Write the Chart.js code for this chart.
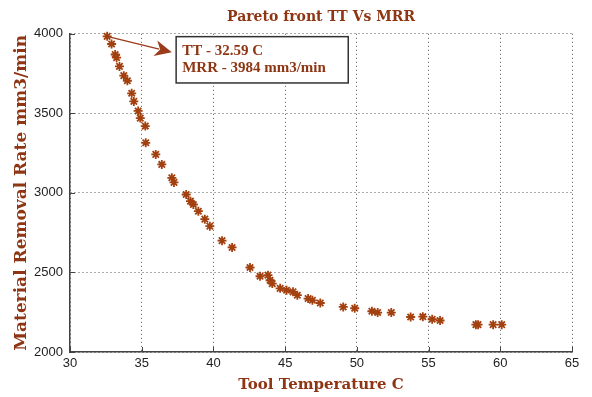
<!DOCTYPE html>
<html>
<head>
<meta charset="utf-8">
<script src="https://cdn.jsdelivr.net/npm/chart.js@4/dist/chart.umd.min.js"></script>
<style>
html,body{margin:0;padding:0;background:#fff;}
#wrap{width:592px;height:397px;position:relative;}
</style>
</head>
<body>
<div id="wrap"><canvas id="c" width="592" height="397"></canvas></div>
<script>
// ---- data ----
const toolTemp = [32.59, 32.9, 33.15, 33.25, 33.45, 33.75, 34.0, 34.3, 34.45, 34.75, 34.9, 35.25,
  35.28, 35.98, 36.4, 37.1, 37.25, 38.1, 38.4, 38.6, 38.95, 39.4, 39.75,
  40.6, 41.3, 42.55, 43.25, 43.8, 43.95, 44.1, 44.65, 45.1, 45.55, 45.85, 46.6, 46.9, 47.45,
  49.05, 49.85, 51.05, 51.45, 52.4, 53.75, 54.6, 55.25, 55.8, 58.3, 58.45, 59.5, 60.1];
const mrr = [3984, 3936, 3870, 3850, 3795, 3737, 3705, 3626, 3575, 3515, 3470, 3420,
  3315, 3242, 3179, 3095, 3066, 2990, 2948, 2927, 2885, 2835, 2791,
  2700, 2657, 2531, 2476, 2483, 2451, 2430, 2400, 2388, 2378, 2357, 2336, 2325, 2308,
  2283, 2275, 2256, 2248, 2248, 2220, 2222, 2206, 2198, 2172, 2172, 2172, 2172];
const xTickValues = [30, 35, 40, 45, 50, 55, 60, 65];
const yTickValues = [2000, 2500, 3000, 3500, 4000];
const chartTitle = 'Pareto front TT Vs MRR';
const xTitle = 'Tool Temperature C';
const yTitle = 'Material Removal Rate mm3/min';
const noteLines = ['TT - 32.59 C', 'MRR - 3984 mm3/min'];
const arrowFrom = [32.59, 3984];
const arrowTo = [37.1, 3884];
const noteBoxX = [37.4, 49.4];
const noteBoxY = [3982, 3691];

const BROWN = '#8e3514';
const points = toolTemp.map((x, i) => ({x: x, y: mrr[i]}));

const innerTicks = {
  id: 'innerTicks',
  afterDraw(chart) {
    const {ctx, scales: {x, y}, chartArea: a} = chart;
    ctx.save();
    ctx.strokeStyle = '#444';
    ctx.lineWidth = 1;
    xTickValues.forEach(v => {
      const px = Math.round(x.getPixelForValue(v)) + 0.5;
      ctx.beginPath(); ctx.moveTo(px, a.bottom); ctx.lineTo(px, a.bottom - 5); ctx.stroke();
    });
    yTickValues.forEach(v => {
      const py = Math.round(y.getPixelForValue(v)) + 0.5;
      ctx.beginPath(); ctx.moveTo(a.left, py); ctx.lineTo(a.left + 5, py); ctx.stroke();
    });
    ctx.restore();
  }
};

const note = {
  id: 'note',
  afterDatasetsDraw(chart) {
    const {ctx, scales: {x, y}} = chart;
    const x0 = x.getPixelForValue(arrowFrom[0]), y0 = y.getPixelForValue(arrowFrom[1]);
    const x1 = x.getPixelForValue(arrowTo[0]), y1 = y.getPixelForValue(arrowTo[1]);
    ctx.save();
    const ang = Math.atan2(y1 - y0, x1 - x0);
    const hl = 17, hw = 8;
    const bx = x1 - hl * Math.cos(ang), by = y1 - hl * Math.sin(ang);
    ctx.strokeStyle = '#9a3c1c';
    ctx.fillStyle = '#9a3c1c';
    ctx.lineWidth = 1.4;
    ctx.beginPath(); ctx.moveTo(x0, y0); ctx.lineTo(bx + 4 * Math.cos(ang), by + 4 * Math.sin(ang)); ctx.stroke();
    ctx.beginPath();
    ctx.moveTo(x1, y1);
    ctx.lineTo(bx + hw * Math.sin(ang), by - hw * Math.cos(ang));
    ctx.lineTo(bx + 5 * Math.cos(ang), by + 5 * Math.sin(ang));
    ctx.lineTo(bx - hw * Math.sin(ang), by + hw * Math.cos(ang));
    ctx.closePath(); ctx.fill();
    const l = x.getPixelForValue(noteBoxX[0]), r = x.getPixelForValue(noteBoxX[1]);
    const t = y.getPixelForValue(noteBoxY[0]), b = y.getPixelForValue(noteBoxY[1]);
    ctx.fillStyle = '#fff';
    ctx.fillRect(l, t, r - l, b - t);
    ctx.strokeStyle = '#333';
    ctx.lineWidth = 1.5;
    ctx.strokeRect(l, t, r - l, b - t);
    ctx.fillStyle = BROWN;
    ctx.font = 'bold 15px "Liberation Serif"';
    ctx.textBaseline = 'middle';
    ctx.textAlign = 'left';
    const lh = (b - t) / (noteLines.length + 0.8);
    noteLines.forEach((s, i) => ctx.fillText(s, l + 6, t + lh * (0.9 + i)));
    ctx.restore();
  }
};

new Chart(document.getElementById('c'), {
  type: 'scatter',
  data: {
    datasets: [{
      data: points,
      pointStyle: 'star',
      pointRadius: 4.5,
      pointHoverRadius: 4.5,
      borderColor: '#a3400f',
      backgroundColor: '#a3400f',
      pointBorderWidth: 1.8,
      clip: false
    }]
  },
  options: {
    responsive: false,
    animation: false,
    events: [],
    layout: {padding: {left: 0, right: 20, top: 0, bottom: 0}},
    plugins: {
      legend: {display: false},
      tooltip: {enabled: false},
      title: {
        display: true,
        text: chartTitle,
        fullSize: false,
        color: BROWN,
        font: {family: '"DejaVu Serif"', weight: 'bold', size: 14},
        padding: {top: 9, bottom: 8}
      }
    },
    scales: {
      x: {
        type: 'linear',
        min: 30, max: 65,
        afterFit: s => { s.height = 45; },
        afterBuildTicks: s => { s.ticks = xTickValues.map(v => ({value: v})); },
        ticks: {color: '#222', font: {family: '"Liberation Sans"', size: 13}, padding: 4,
          callback: v => String(v)},
        grid: {color: '#555', lineWidth: 1, drawTicks: false},
        border: {display: true, color: '#444', width: 1.5, dash: [1, 3]},
        title: {display: true, text: xTitle, color: BROWN,
          font: {family: '"DejaVu Serif"', weight: 'bold', size: 15}, padding: {top: 0, bottom: 3}}
      },
      y: {
        type: 'linear',
        min: 2000, max: 4000,
        afterFit: s => { s.width = 70; },
        afterBuildTicks: s => { s.ticks = yTickValues.map(v => ({value: v})); },
        ticks: {color: '#222', font: {family: '"Liberation Sans"', size: 13}, padding: 7,
          callback: v => String(v)},
        grid: {color: '#555', lineWidth: 1, drawTicks: false},
        border: {display: true, color: '#444', width: 1.5, dash: [1, 3]},
        title: {display: true, text: yTitle, color: BROWN,
          font: {family: '"DejaVu Serif"', weight: 'bold', size: 17}, padding: {top: 11, bottom: 0}}
      }
    }
  },
  plugins: [innerTicks, note]
});
</script>
</body>
</html>
